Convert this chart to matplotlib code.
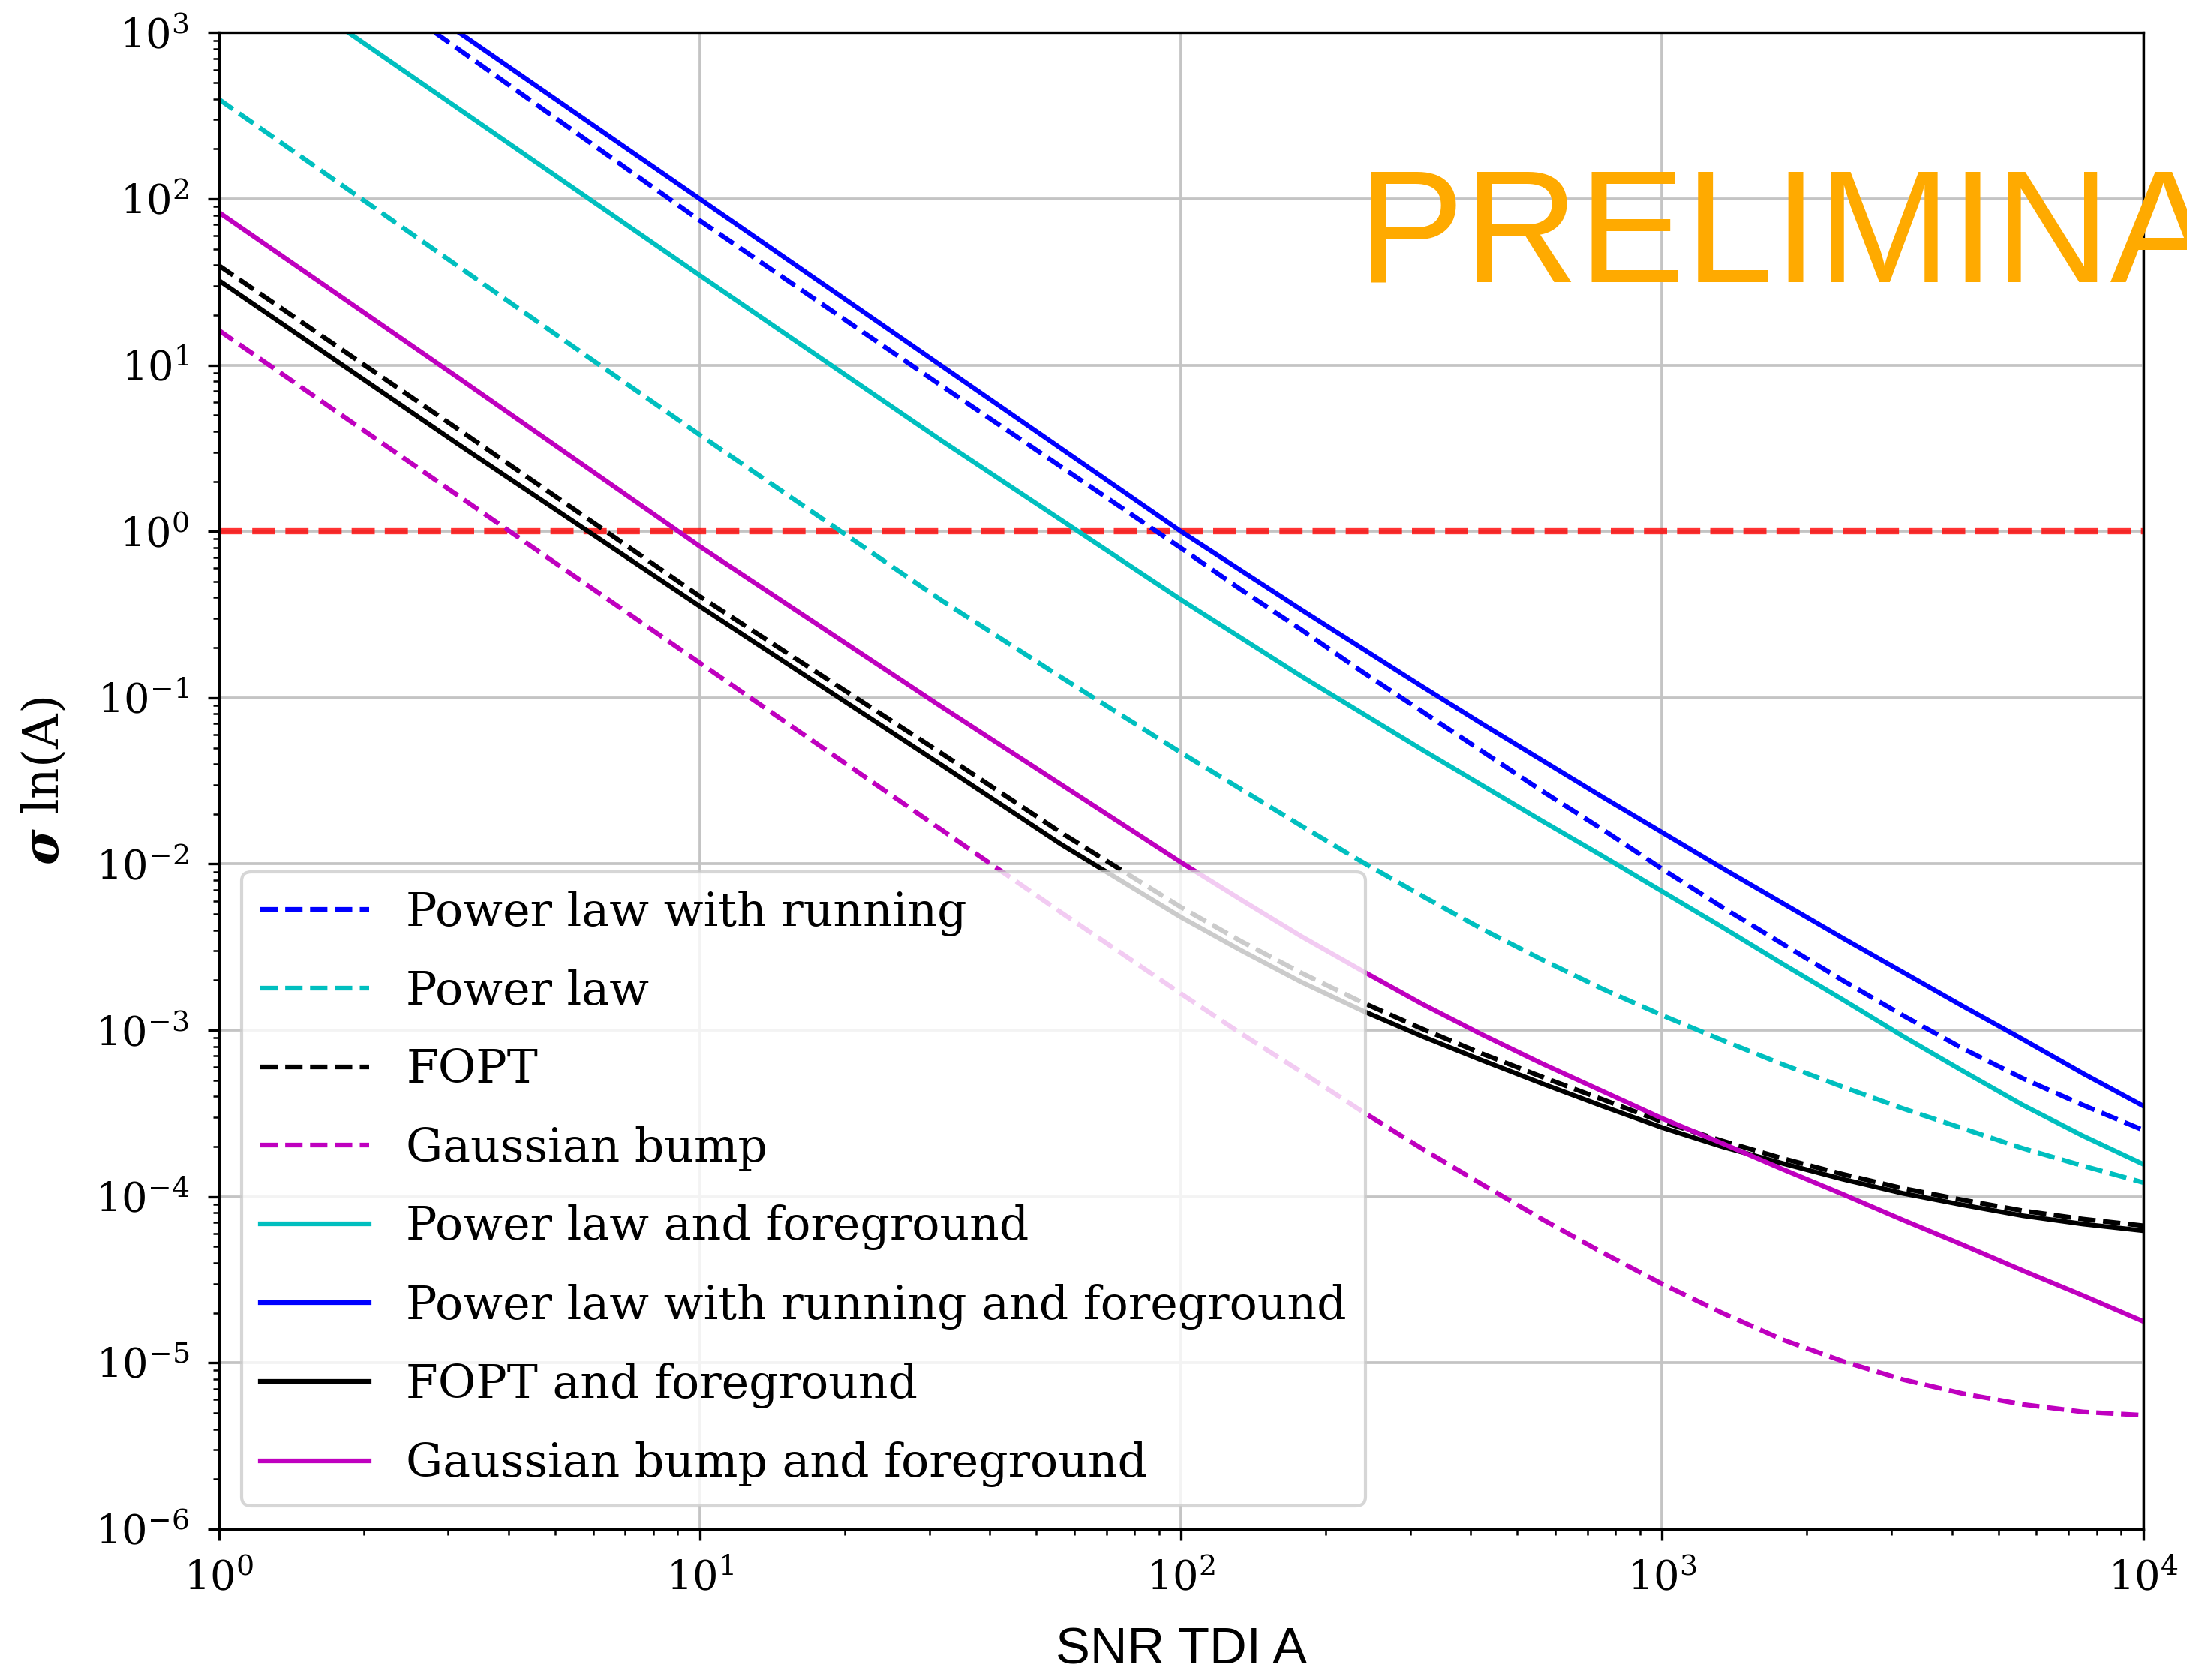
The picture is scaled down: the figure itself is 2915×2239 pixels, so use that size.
import matplotlib
matplotlib.use("Agg")
import matplotlib.pyplot as plt
import numpy as np
from matplotlib.ticker import LogLocator, NullFormatter

plt.rcParams["font.family"] = "DejaVu Serif"
plt.rcParams["mathtext.fontset"] = "custom"
plt.rcParams["mathtext.rm"] = "DejaVu Serif"
plt.rcParams["mathtext.it"] = "DejaVu Serif:italic"
plt.rcParams["mathtext.bf"] = "DejaVu Serif:bold:italic"

# log10(SNR) sample points; the high-SNR end is sampled finer where the curves bend
log_snr_tail = [2, 2.125, 2.25, 2.375, 2.5, 2.625, 2.75, 2.875, 3,
                3.125, 3.25, 3.375, 3.5, 3.625, 3.75, 3.875, 4]
log_snr = [0, 0.5, 1, 1.5, 1.75] + log_snr_tail

# curves entering through the top of the frame start where they cross it
log_snr_plr_fg = [0.5, 1, 1.5, 1.75] + log_snr_tail
log_snr_plr = [0.45, 1, 1.5, 1.75] + log_snr_tail
log_snr_pl_fg = [0.27, 0.5, 1, 1.5, 1.75] + log_snr_tail

# log10(sigma ln A)
log_sig_plr = [3.0, 1.87, 0.88, 0.39,
               -0.10, -0.35, -0.59, -0.84, -1.08, -1.32, -1.56, -1.79, -2.03,
               -2.26, -2.48, -2.70, -2.91, -3.11, -3.29, -3.45, -3.60]
log_sig_pl = [2.60, 1.59, 0.58, -0.41, -0.875,
              -1.33, -1.55, -1.77, -1.985, -2.19, -2.39, -2.575, -2.75, -2.91,
              -3.06, -3.205, -3.34, -3.47, -3.59, -3.71, -3.815, -3.915]
log_sig_fopt = [1.60, 0.61, -0.39, -1.33, -1.81,
                -2.26, -2.465, -2.655, -2.83, -2.99, -3.14, -3.28, -3.415, -3.55,
                -3.665, -3.77, -3.865, -3.95, -4.02, -4.085, -4.135, -4.175]
log_sig_gb = [1.21, 0.21, -0.79, -1.79, -2.29,
              -2.78, -3.02, -3.25, -3.485, -3.71, -3.925, -4.135, -4.335, -4.525,
              -4.70, -4.86, -4.99, -5.10, -5.185, -5.25, -5.295, -5.315]
log_sig_pl_fg = [3.0, 2.54, 1.54, 0.55, 0.07,
                 -0.41, -0.64, -0.87, -1.09, -1.31, -1.525, -1.74, -1.95, -2.165,
                 -2.38, -2.60, -2.815, -3.035, -3.245, -3.45, -3.635, -3.805]
log_sig_plr_fg = [3.0, 2.0, 1.0, 0.5,
                  0.0, -0.235, -0.47, -0.70, -0.93, -1.155, -1.375, -1.595, -1.81,
                  -2.025, -2.235, -2.445, -2.65, -2.855, -3.055, -3.26, -3.455]
log_sig_fopt_fg = [1.51, 0.52, -0.45, -1.40, -1.88,
                   -2.32, -2.52, -2.71, -2.88, -3.035, -3.18, -3.32, -3.455, -3.585,
                   -3.70, -3.80, -3.895, -3.98, -4.05, -4.115, -4.165, -4.205]
log_sig_gb_fg = [1.92, 0.92, -0.09, -1.05, -1.52,
                 -1.99, -2.215, -2.435, -2.64, -2.84, -3.025, -3.20, -3.365, -3.53,
                 -3.68, -3.835, -3.985, -4.14, -4.29, -4.445, -4.595, -4.75]

threshold = 1.0

curves = [
    ("Power law with running", log_snr_plr, log_sig_plr, "b", "--"),
    ("Power law", log_snr, log_sig_pl, "c", "--"),
    ("FOPT", log_snr, log_sig_fopt, "k", "--"),
    ("Gaussian bump", log_snr, log_sig_gb, "m", "--"),
    ("Power law and foreground", log_snr_pl_fg, log_sig_pl_fg, "c", "-"),
    ("Power law with running and foreground", log_snr_plr_fg, log_sig_plr_fg, "b", "-"),
    ("FOPT and foreground", log_snr, log_sig_fopt_fg, "k", "-"),
    ("Gaussian bump and foreground", log_snr, log_sig_gb_fg, "m", "-"),
]

fig = plt.figure(figsize=(2915 / 300, 2239 / 300), dpi=300)
ax = fig.add_axes([0.100, 0.0898, 0.880, 0.8908])

ax.axhline(threshold, color="r", ls="--", lw=2, alpha=0.8)
for label, lx, ly, color, ls in curves:
    ax.plot(10 ** np.array(lx), 10 ** np.array(ly), color=color, ls=ls, lw=1.5, label=label)

ax.set_xscale("log")
ax.set_yscale("log")
ax.set_xlim(1, 1e4)
ax.set_ylim(1e-6, 1e3)

for axis in (ax.xaxis, ax.yaxis):
    axis.set_major_locator(LogLocator(base=10, numticks=20))
    axis.set_minor_locator(LogLocator(base=10, subs=np.arange(2, 10), numticks=20))
    axis.set_minor_formatter(NullFormatter())

ax.tick_params(which="major", labelsize=13, pad=6)
ax.grid(True, which="major", color="#c4c4c4", lw=0.9)

ax.set_ylabel(r"$\mathbf{\sigma}$ ln(A)", fontsize=15.5)
ax.yaxis.set_label_coords(-0.078, 0.5)
ax.set_xlabel("SNR TDI A", fontsize=16.5, fontfamily="Liberation Sans")
ax.xaxis.set_label_coords(0.5, -0.065)

ax.legend(loc="lower left", fontsize=14.8, handlelength=2.35, labelspacing=0.72,
          framealpha=0.8)

# watermark runs past the right edge of the figure
fig.text(1810 / 2915, 1 - 375 / 2239, "PRELIMINARY", fontsize=51, color="#ffaa00",
         fontfamily="Liberation Sans", ha="left", va="baseline", zorder=10)

fig.savefig("out.png", dpi=300)
